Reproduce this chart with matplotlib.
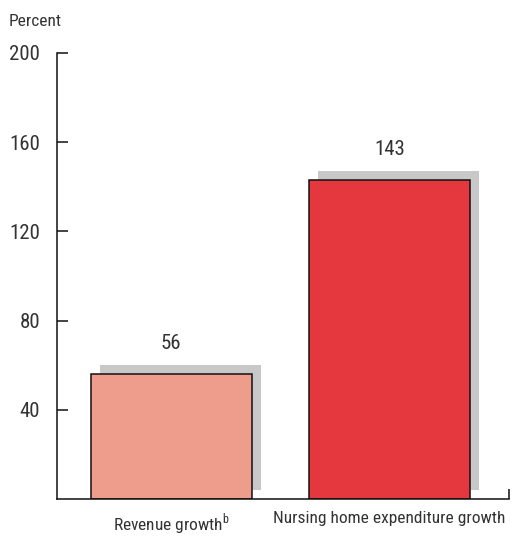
"""Revenue growth vs nursing home expenditure growth."""
import matplotlib
matplotlib.use("Agg")
import matplotlib.pyplot as plt
import matplotlib.transforms as mtransforms
from matplotlib import font_manager

# Data
categories = ['Revenue growth$^{\\mathregular{b}}$', 'Nursing home expenditure growth']
values = [56, 143]
colors = ['#EE9C8B', '#E4373E']
y_ticks = [40, 80, 120, 160, 200]

installed = {f.name for f in font_manager.fontManager.ttflist}
narrow = [n for n in ['Roboto Condensed', 'Liberation Sans Narrow', 'Open Sans Condensed',
                      'Noto Sans Condensed', 'DejaVu Sans Condensed'] if n in installed]
plt.rcParams['font.family'] = narrow + ['Roboto', 'DejaVu Sans']
plt.rcParams['mathtext.fontset'] = 'custom'
plt.rcParams['mathtext.rm'] = (narrow + ['Roboto'])[0]
plt.rcParams['text.color'] = '#333333'
plt.rcParams['xtick.color'] = '#111111'
plt.rcParams['ytick.color'] = '#111111'
plt.rcParams['xtick.labelcolor'] = '#333333'
plt.rcParams['ytick.labelcolor'] = '#333333'

fig = plt.figure(figsize=(5.12, 5.38), dpi=100)
ax = fig.add_axes([0.111, 0.0725, 0.883, 0.829])

x = list(range(len(values)))
width = 0.74

# Grey drop shadow, shifted up and to the right
shadow = mtransforms.offset_copy(ax.transData, fig=fig, x=9, y=9, units='dots')
ax.bar(x, values, width=width, color='#C8C8C8', transform=shadow, zorder=1)
ax.bar(x, values, width=width, color=colors, edgecolor='#111111',
       linewidth=1.1, zorder=2)

for xi, v in zip(x, values):
    ax.annotate(str(v), (xi, v), xytext=(0, 15), textcoords='offset points',
                ha='center', va='bottom', fontsize=15)

xmin, xmax = -0.525, 1.548
ax.set_xlim(xmin, xmax)
ax.set_ylim(0, 200)

ax.set_xticks(x)
ax.set_xticklabels(categories, fontsize=12.5)
ax.tick_params(axis='x', length=0, pad=9)
ax.set_xticks([xmax], minor=True)
ax.tick_params(axis='x', which='minor', direction='in', length=7, width=1.1)

ax.set_yticks(y_ticks)
ax.set_yticklabels([str(t) for t in y_ticks], fontsize=15)
ax.tick_params(axis='y', direction='in', length=8, width=1.1, pad=12)

for side in ['top', 'right']:
    ax.spines[side].set_visible(False)
for side in ['left', 'bottom']:
    ax.spines[side].set_linewidth(1.1)
    ax.spines[side].set_color('#111111')

fig.text(0.016, 0.96, 'Percent', fontsize=12.5, ha='left', va='center')

fig.savefig('out.png', dpi=100)
